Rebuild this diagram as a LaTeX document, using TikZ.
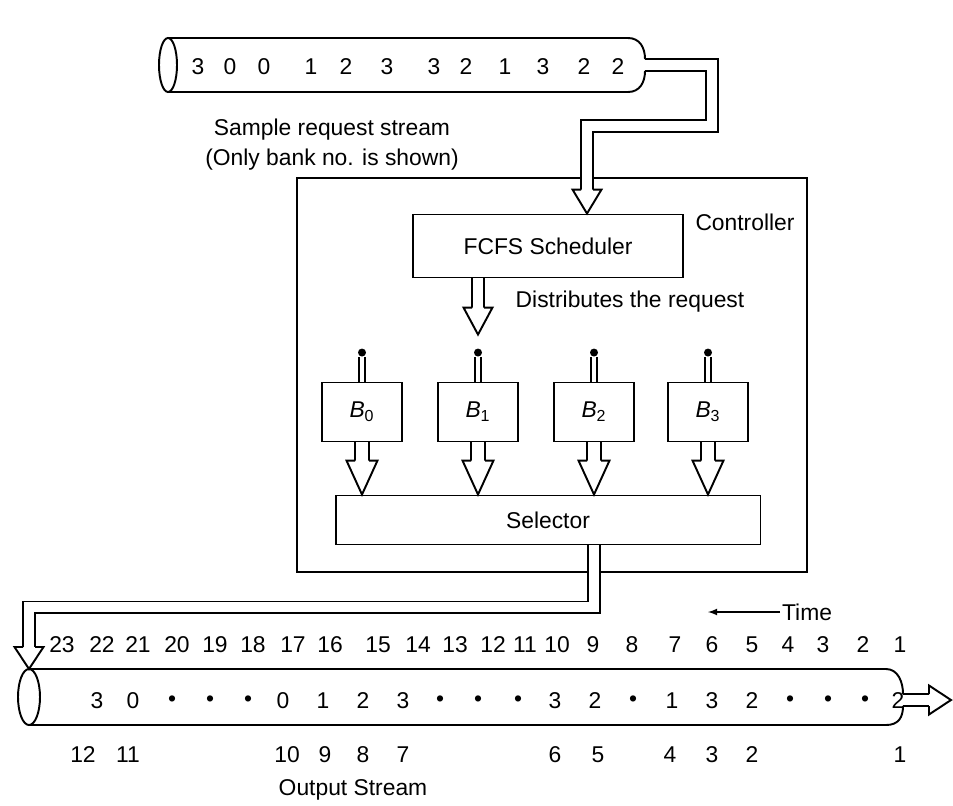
\documentclass[tikz,border=0pt]{standalone}
\usepackage{fontspec}
\setmainfont{Liberation Sans}
\usetikzlibrary{calc}

\tikzset{
  lbl/.style={font=\fontsize{13}{17}\selectfont, inner sep=1pt},
  unitbox/.style={draw, line width=1.1pt, fill=white, lbl},
  pipe/.style={line width=1.1pt},
  bus/.style={line width=1.1pt, double=white, double distance=5.7pt},
  widebus/.style={line width=1.1pt, double=white, double distance=6.8pt},
  tapbus/.style={line width=0.8pt, double=white, double distance=2.6pt}
}

% hollow arrow heads: tip, half width of the shaft, length
\newcommand{\headdown}[3]{%
  \filldraw[fill=white,line width=1.1pt] ($#1+(-#2,-#3)$) -- ++(-8.5,0) -- #1
    -- ($#1+(#2+8.5,-#3)$) -- ++(-8.5,0);}
\newcommand{\headright}[3]{%
  \filldraw[fill=white,line width=1.1pt] ($#1+(-#3,-#2)$) -- ++(0,-8.5) -- #1
    -- ($#1+(-#3,#2+8.5)$) -- ++(0,-8.5);}

\begin{document}
\begin{tikzpicture}[x=0.02cm,y=-0.02cm]
  \useasboundingbox (0,0) rectangle (953,805);

  % --- sample request stream (input pipe) ---
  \draw[pipe] (168,65) ellipse (9 and 27);
  \draw[pipe] (168,38) -- (628,38) .. controls (640,38) and (645,48) .. (645,59);
  \draw[pipe] (168,92) -- (628,92) .. controls (640,92) and (645,82) .. (645,71);
  \coordinate (reqout) at (645,65);
  \foreach \v/\x [count=\i] in {3/198,0/230,0/264,1/311,2/346,3/387,
                                3/434,2/466,1/505,3/543,2/584,2/618}
    \node[lbl] (r\i) at (\x,67) {\v};
  \node[lbl, align=center] (reqlbl) at (332,145)
    {Sample request stream\\(Only bank no. is shown)};

  % --- controller ---
  \draw[line width=1.1pt] (297,178) rectangle (807,572);
  \node[lbl] (ctrl) at (745,222) {Controller};
  \node[unitbox, minimum width=5.4cm, minimum height=1.26cm] (fcfs) at (548,246)
    {FCFS Scheduler};
  \node[lbl] (dist) at (630,302) {Distributes the request};
  \foreach \i/\x in {0/362,1/478,2/594,3/708}
    \node[unitbox, minimum width=1.6cm, minimum height=1.18cm] (b\i) at (\x,412)
      {{\itshape B}\textsubscript{\i}};
  \node[unitbox, minimum width=8.5cm, minimum height=0.98cm] (sel) at (548,520)
    {Selector};

  % tap points above the banks
  \foreach \i in {0,...,3}{
    \node[circle, fill, inner sep=0pt, minimum size=0.16cm] (tap\i)
      at ($(b\i.north)+(0,-29)$) {};
    \draw[tapbus] (tap\i.south) -- (b\i.north);
  }

  % banks into the selector
  \foreach \i in {0,...,3}{
    \coordinate (h\i) at (b\i.south |- sel.north);
    \draw[widebus] (b\i.south) -- ($(h\i)+(0,-34)$);
    \headdown{(h\i)}{7}{34}
  }

  % scheduler distributes the requests
  \coordinate (distend) at ($(b1.north)+(0,-47)$);
  \draw[bus] (fcfs.south -| b1.north) -- ($(distend)+(0,-27)$);
  \headdown{(distend)}{6}{27}

  % request stream into the scheduler
  \coordinate (fin) at ($(fcfs.north)+(39,0)$);
  \draw[bus] (reqout) -- ++(67,0) -- ++(0,61) -| ($(fin)+(0,-24)$);
  \headdown{(fin)}{6}{24}

  % --- output stream ---
  \coordinate (oin) at (29,669);
  \draw[pipe] (29,697) ellipse (11 and 28);
  \draw[pipe] (29,669) -- (886,669) .. controls (898,669) and (903,682) .. (903,694);
  \draw[pipe] (29,725) -- (886,725) .. controls (898,725) and (903,718) .. (903,706);
  \draw[bus] (b2.south |- sel.south) -- ++(0,62) -| ($(oin)+(0,-22)$);
  \headdown{(oin)}{6}{22}
  \coordinate (outend) at (951,700);
  \draw[bus] (903,700) -- ($(outend)+(-22,0)$);
  \headright{(outend)}{6}{22}

  % time slots
  \foreach \t/\x in {23/62,22/102,21/138,20/177,19/215,18/253,17/293,16/330,
                     15/378,14/418,13/455,12/493,11/525,10/557,9/593,8/632,
                     7/675,6/712,5/752,4/788,3/823,2/863,1/900}
    \node[lbl] (t\t) at (\x,645) {\t};
  \node[lbl, anchor=west] (time) at (780,612) {Time};
  \coordinate (timeend) at (708,612);
  \draw[-latex, line width=0.8pt] (time.west) -- (timeend);

  % banks served in each slot
  \foreach \v/\x [count=\i] in {3/97,0/133,\textbullet/172,\textbullet/210,
      \textbullet/248,0/283,1/323,2/363,3/403,\textbullet/440,\textbullet/478,
      \textbullet/518,3/555,2/595,\textbullet/633,1/672,3/712,2/752,
      \textbullet/790,\textbullet/828,\textbullet/865,2/898}
    \node[lbl] (s\i) at (\x,701) {\v};

  % order of completion
  \foreach \n/\x in {12/83,11/128,10/287,9/325,8/363,7/403,
                     6/555,5/598,4/670,3/712,2/752,1/900}
    \node[lbl] (c\n) at (\x,755) {\n};
  \node[lbl] (outlbl) at (353,790) {Output Stream};

\end{tikzpicture}
\end{document}
